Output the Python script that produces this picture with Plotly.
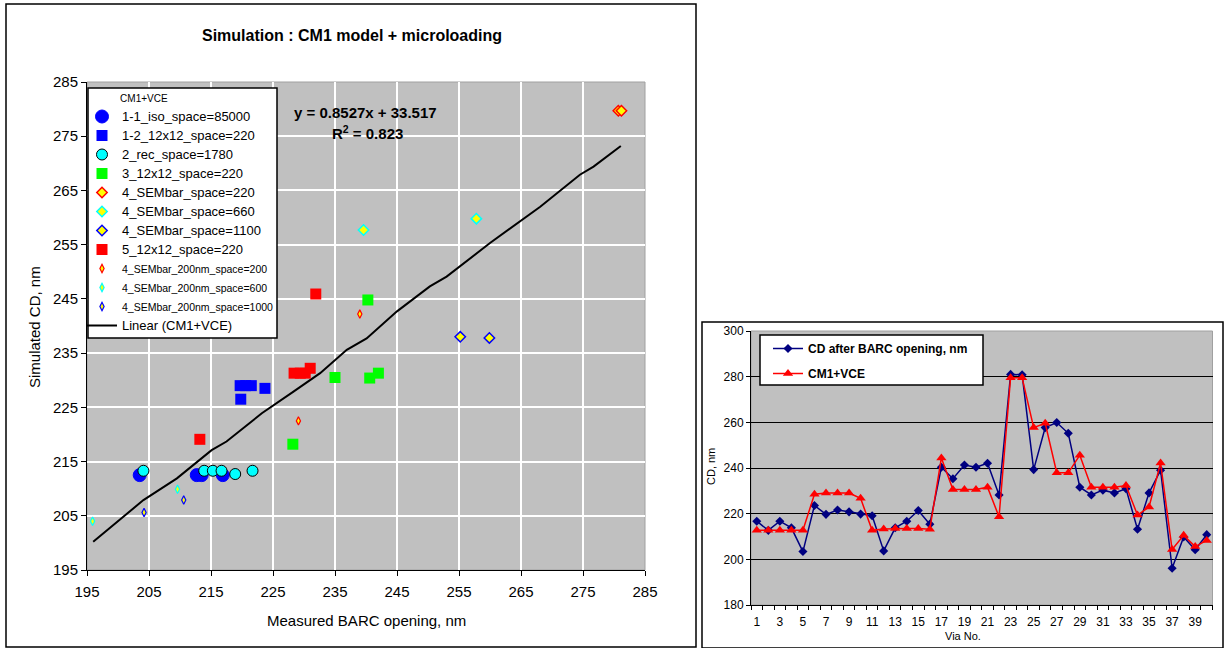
import plotly.graph_objects as go

W, H = 1228, 648
FONT = "Liberation Sans, Arial, sans-serif"

# ---------------- Left chart data (Measured BARC opening vs Simulated CD) ----------------
iso_85000_x = [203.5, 212.7, 213.5, 216.9]
iso_85000_y = [212.5, 212.5, 212.5, 212.5]
sq_12x12_220_x = [219.7, 220.6, 221.5, 219.8, 223.7]
sq_12x12_220_y = [229.0, 229.0, 229.0, 226.5, 228.5]
rec_1780_x = [204.1, 213.9, 215.3, 216.7, 218.9, 221.7]
rec_1780_y = [213.3, 213.3, 213.3, 213.3, 212.7, 213.3]
g3_12x12_220_x = [228.2, 235.0, 240.3, 240.6, 242.0]
g3_12x12_220_y = [218.2, 230.5, 244.8, 230.4, 231.3]
sem_220_x = [280.7, 281.2]
sem_220_y = [279.7, 279.7]
sem_660_x = [239.6, 257.8]
sem_660_y = [257.7, 259.8]
sem_1100_x = [255.2, 259.9]
sem_1100_y = [238.0, 237.8]
r5_12x12_220_x = [213.2, 228.4, 229.4, 230.2, 231.0, 231.9]
r5_12x12_220_y = [219.1, 231.3, 231.3, 231.3, 232.2, 245.9]
sem200_200_x = [229.1, 239.0]
sem200_200_y = [222.5, 242.2]
sem200_600_x = [195.9, 209.6]
sem200_600_y = [204.0, 209.9]
sem200_1000_x = [204.2, 210.6]
sem200_1000_y = [205.6, 207.9]
trend_x = [196.0, 204.1, 209.5, 215.1, 217.5, 223.2, 228.3, 232.6, 236.9, 240.1,
           245.0, 250.3, 253.0, 260.0, 268.1, 274.5, 276.7, 281.1]
trend_y = [200.2, 207.9, 211.9, 217.1, 218.7, 223.9, 227.9, 231.3, 235.6, 237.7,
           242.7, 247.3, 249.1, 255.3, 262.0, 267.9, 269.4, 273.2]
left_ticks = [195, 205, 215, 225, 235, 245, 255, 265, 275, 285]

# ---------------- Right chart data (CD per via) ----------------
via_no = [1, 2, 3, 4, 5, 6, 7, 8, 9, 10, 11, 12, 13, 14, 15, 16, 17, 18, 19, 20,
          21, 22, 23, 24, 25, 26, 27, 28, 29, 30, 31, 32, 33, 34, 35, 36, 37, 38, 39, 40]
cd_barc = [216.7, 212.7, 216.7, 213.8, 203.4, 223.6, 219.7, 221.6, 220.8, 219.8,
           219.1, 203.7, 213.8, 216.7, 221.4, 215.4, 240.3, 235.3, 241.3, 240.3,
           242.1, 228.2, 281.0, 280.8, 239.3, 257.7, 259.9, 255.2, 231.6, 228.2,
           230.3, 229.1, 230.9, 213.2, 229.1, 239.0, 196.1, 209.8, 204.2, 210.8]
cm1_vce = [212.7, 212.7, 212.7, 212.7, 212.7, 228.5, 229.0, 229.0, 229.0, 226.7,
           212.7, 213.3, 213.5, 213.5, 213.5, 213.2, 244.4, 230.6, 230.6, 230.6,
           231.6, 218.6, 279.5, 279.5, 257.7, 259.6, 237.9, 237.9, 245.6, 231.6,
           231.6, 231.6, 232.3, 219.4, 222.9, 242.2, 204.3, 210.5, 205.6, 208.3]
right_xticks = [1, 3, 5, 7, 9, 11, 13, 15, 17, 19, 21, 23, 25, 27, 29, 31, 33, 35, 37, 39]
right_yticks = [180, 200, 220, 240, 260, 280, 300]


def px_x(p):
    return p / W


def px_y(p):
    return (H - p) / H


fig = go.Figure()


def small(s):
    return f"<span style='font-size:10.5px'>{s}</span>"


def big(s):
    return f"<span style='font-size:13px'>{s}</span>"


left_series = [
    (big("1-1_iso_space=85000"), iso_85000_x, iso_85000_y,
     dict(symbol="circle", size=13, color="#0000FF", line=dict(color="#0000FF", width=1))),
    (big("1-2_12x12_space=220"), sq_12x12_220_x, sq_12x12_220_y,
     dict(symbol="square", size=11, color="#0000FF", line=dict(color="#0000FF", width=0))),
    (big("2_rec_space=1780"), rec_1780_x, rec_1780_y,
     dict(symbol="circle", size=11, color="#00FFFF", line=dict(color="#000000", width=1))),
    (big("3_12x12_space=220"), g3_12x12_220_x, g3_12x12_220_y,
     dict(symbol="square", size=11, color="#00FF00", line=dict(color="#00FF00", width=0))),
    (big("4_SEMbar_space=220"), sem_220_x, sem_220_y,
     dict(symbol="diamond", size=8, color="#FFFF00", line=dict(color="#FF0000", width=1.5))),
    (big("4_SEMbar_space=660"), sem_660_x, sem_660_y,
     dict(symbol="diamond", size=8, color="#FFFF00", line=dict(color="#00FFFF", width=1.5))),
    (big("4_SEMbar_space=1100"), sem_1100_x, sem_1100_y,
     dict(symbol="diamond", size=8, color="#FFFF00", line=dict(color="#0000FF", width=1.5))),
    (big("5_12x12_space=220"), r5_12x12_220_x, r5_12x12_220_y,
     dict(symbol="square", size=11, color="#FF0000", line=dict(color="#FF0000", width=0))),
    (small("4_SEMbar_200nm_space=200"), sem200_200_x, sem200_200_y,
     dict(symbol="diamond-tall", size=6, color="#FFFF00", line=dict(color="#FF0000", width=1.2))),
    (small("4_SEMbar_200nm_space=600"), sem200_600_x, sem200_600_y,
     dict(symbol="diamond-tall", size=6, color="#FFFF00", line=dict(color="#00FFFF", width=1.2))),
    (small("4_SEMbar_200nm_space=1000"), sem200_1000_x, sem200_1000_y,
     dict(symbol="diamond-tall", size=6, color="#FFFF00", line=dict(color="#0000FF", width=1.2))),
]

fig.add_trace(go.Scatter(x=trend_x, y=trend_y, mode="lines", name=big("Linear (CM1+VCE)"),
                         line=dict(color="#000000", width=2), xaxis="x", yaxis="y",
                         legend="legend", legendrank=100, legendgroup="trend"))
for i, (name, xs, ys, mk) in enumerate(left_series):
    fig.add_trace(go.Scatter(x=xs, y=ys, mode="markers", name=name, marker=mk,
                             xaxis="x", yaxis="y", legend="legend",
                             legendrank=i + 1, legendgroup=f"g{i}"))

fig.add_trace(go.Scatter(x=via_no, y=cd_barc, mode="lines+markers",
                         name="<b>CD after BARC opening, nm</b>",
                         line=dict(color="#000080", width=1.5),
                         marker=dict(symbol="diamond", size=7, color="#000080"),
                         xaxis="x2", yaxis="y2", legend="legend2", legendgroup="r1"))
fig.add_trace(go.Scatter(x=via_no, y=cm1_vce, mode="lines+markers",
                         name="<b>CM1+VCE</b>",
                         line=dict(color="#FF0000", width=1.5),
                         marker=dict(symbol="triangle-up", size=9, color="#FF0000"),
                         xaxis="x2", yaxis="y2", legend="legend2", legendgroup="r2"))

shapes = [
    dict(type="rect", xref="paper", yref="paper", x0=px_x(6), x1=px_x(696), y0=px_y(647), y1=px_y(4),
         line=dict(color="#000000", width=1.5), fillcolor="rgba(0,0,0,0)", layer="below"),
    dict(type="rect", xref="paper", yref="paper", x0=px_x(702), x1=px_x(1223), y0=px_y(648), y1=px_y(322),
         line=dict(color="#000000", width=1.5), fillcolor="rgba(0,0,0,0)", layer="below"),
    dict(type="rect", xref="paper", yref="paper", x0=px_x(87), x1=px_x(645), y0=px_y(570), y1=px_y(82),
         line=dict(color="#A0A0A0", width=1), fillcolor="rgba(0,0,0,0)", layer="below"),
    dict(type="rect", xref="paper", yref="paper", x0=px_x(751), x1=px_x(1212.5), y0=px_y(605), y1=px_y(331),
         line=dict(color="#A0A0A0", width=1), fillcolor="rgba(0,0,0,0)", layer="below"),
    dict(type="rect", xref="paper", yref="paper", x0=px_x(88), x1=px_x(277), y0=px_y(338), y1=px_y(88),
         line=dict(color="#000000", width=1.5), fillcolor="#FFFFFF", layer="above"),
    dict(type="rect", xref="paper", yref="paper", x0=px_x(760), x1=px_x(983), y0=px_y(385), y1=px_y(335),
         line=dict(color="#000000", width=1.5), fillcolor="#FFFFFF", layer="above"),
]


def ann(text, x, y, size, angle=0):
    return dict(text=text, x=px_x(x), y=px_y(y), xref="paper", yref="paper",
                xanchor="center", yanchor="middle", showarrow=False, textangle=angle,
                font=dict(size=size, color="#000000"))


annotations = [
    ann("<b>Simulation : CM1 model + microloading</b>", 352, 35, 16),
    ann("<b>y = 0.8527x + 33.517</b>", 365, 112, 15),
    ann("<b>R<sup>2</sup> = 0.823</b>", 367, 132, 15),
    ann("Measured BARC opening, nm", 366, 620, 15),
    ann("Simulated CD, nm", 34, 327, 15, -90),
    ann("Via No.", 963, 636, 11),
    ann("CD, nm", 711, 467, 11, -90),
]

fig.update_layout(
    width=W, height=H, autosize=False,
    margin=dict(l=0, r=0, t=0, b=0, pad=0, autoexpand=False),
    paper_bgcolor="#FFFFFF", plot_bgcolor="#C0C0C0",
    font=dict(family=FONT, color="#000000"),
    showlegend=True,
    shapes=shapes, annotations=annotations,
    xaxis=dict(domain=[px_x(87), px_x(645)], range=[195, 285], tickvals=left_ticks,
               showgrid=True, gridcolor="#FFFFFF", gridwidth=1.5, zeroline=False,
               showline=True, linecolor="#000000", linewidth=1, automargin=False,
               ticks="outside", ticklen=5, tickcolor="#000000", ticklabelstandoff=3,
               tickfont=dict(size=15), anchor="y"),
    yaxis=dict(domain=[px_y(570), px_y(82)], range=[195, 285], tickvals=left_ticks,
               showgrid=True, gridcolor="#FFFFFF", gridwidth=1.5, zeroline=False,
               showline=True, linecolor="#000000", linewidth=1, automargin=False,
               ticks="outside", ticklen=5, tickcolor="#000000",
               tickfont=dict(size=15), anchor="x"),
    xaxis2=dict(domain=[px_x(751), px_x(1212.5)], range=[0.5, 40.5], tickvals=right_xticks,
                showgrid=False, zeroline=False, showline=True, linecolor="#000000", linewidth=1,
                ticks="", tickfont=dict(size=12), anchor="y2", automargin=False,
                ticklabelstandoff=6,
                minor=dict(ticks="outside", tick0=0.5, dtick=1, ticklen=4, tickcolor="#000000",
                           showgrid=False)),
    yaxis2=dict(domain=[px_y(605), px_y(331)], range=[180, 300], tickvals=right_yticks,
                showgrid=True, gridcolor="#000000", gridwidth=1, zeroline=False,
                showline=True, linecolor="#000000", linewidth=1, automargin=False,
                ticks="outside", ticklen=4, tickcolor="#000000",
                tickfont=dict(size=12), anchor="x2"),
    legend=dict(x=px_x(82), y=px_y(89), xanchor="left", yanchor="top",
                bgcolor="rgba(0,0,0,0)", borderwidth=0,
                font=dict(size=12, color="#000000"), tracegroupgap=0,
                title=dict(text="\u00a0" * 13 + "CM1+VCE", font=dict(size=10))),
    legend2=dict(x=px_x(768), y=px_y(334), xanchor="left", yanchor="top",
                 bgcolor="rgba(0,0,0,0)", borderwidth=0,
                 font=dict(size=12, color="#000000"), tracegroupgap=6),
)

fig.write_html("out.html", config={"responsive": False, "displayModeBar": False},
               post_script="document.body.style.margin='0';document.body.style.overflow='hidden';")
